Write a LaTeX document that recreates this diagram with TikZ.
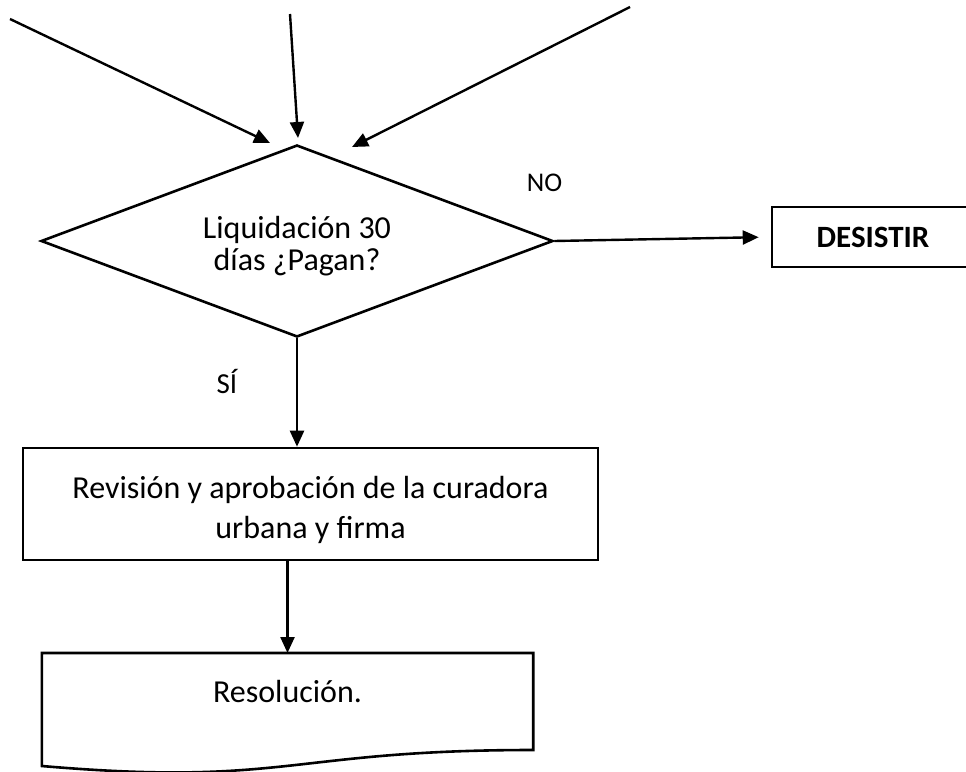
\documentclass[tikz,border=0pt]{standalone}
\usepackage{fontspec}
\setmainfont{Carlito}
\usetikzlibrary{arrows.meta, positioning, shapes.geometric, calc}

\begin{document}
\begin{tikzpicture}[x=1pt, y=-1pt, >={Triangle[length=16pt,width=14pt]}]

% --------- estilos ----------
\tikzset{
  caja/.style={draw, line width=2.6pt, inner sep=0pt},
  flecha/.style={->, line width=2.4pt},
  txt/.style={font=\fontsize{32}{40}\selectfont, align=center},
  rotulo/.style={font=\fontsize{27}{32}\selectfont}
}

\useasboundingbox (0,0) rectangle (966,771);

% ===================== decisión =====================
\node[caja, txt, diamond, aspect=2.667, minimum width=512pt, minimum height=192pt,
  font=\fontsize{32}{32}\selectfont, text height=64pt, text depth=5pt]
  (pago) at (297,241) {Liquidación 30\\días ¿Pagan?};

% entradas desde arriba (extremos libres)
\coordinate (entA) at (10,19);
\coordinate (entB) at (290,14);
\coordinate (entC) at (630,7);
\coordinate (llegA) at (270,143);
\coordinate (llegB) at (298,138);
\coordinate (llegC) at (352,147);
\draw[flecha] (entA) -- (llegA);
\draw[flecha] (entB) -- (llegB);
\draw[flecha] (entC) -- (llegC);

% rama NO
\node[caja, font=\bfseries\fontsize{31}{36}\selectfont, minimum width=202pt, minimum height=60pt]
  (desistir) at (873,237) {DESISTIR};
\draw[flecha, shorten >=12pt] (pago.east) -- (desistir.west);
\node[rotulo, anchor=base] (no) at (544.5,191) {NO};

% rama SÍ
\node[caja, txt, minimum width=575pt, minimum height=112pt, text height=74pt, text depth=6pt]
  (revision) at (310.5,504) {Revisión y aprobación de la curadora\\urbana y firma};
\draw[flecha] (pago.south) -- (pago.south |- revision.north);
\node[rotulo, font=\fontsize{29}{34}\selectfont, anchor=base] (si) at (227,393) {SÍ};

% documento final (borde inferior ondulado)
\node[txt, inner sep=0pt, minimum width=491pt, minimum height=113pt,
  text height=23pt, text depth=37pt, anchor=north] (resol) at (287.5,653) {Resolución.};
\draw[line width=2.6pt] (resol.north west) -- (resol.north east)
  -- ($(resol.north east)+(0,97)$)
  .. controls ($(resol.north)+(0,97)$) and ($(resol.north)+(0,134)$) .. ($(resol.north west)+(0,113)$)
  -- cycle;
\draw[flecha] (revision.south -| resol.north) -- (resol.north);

\end{tikzpicture}
\end{document}
